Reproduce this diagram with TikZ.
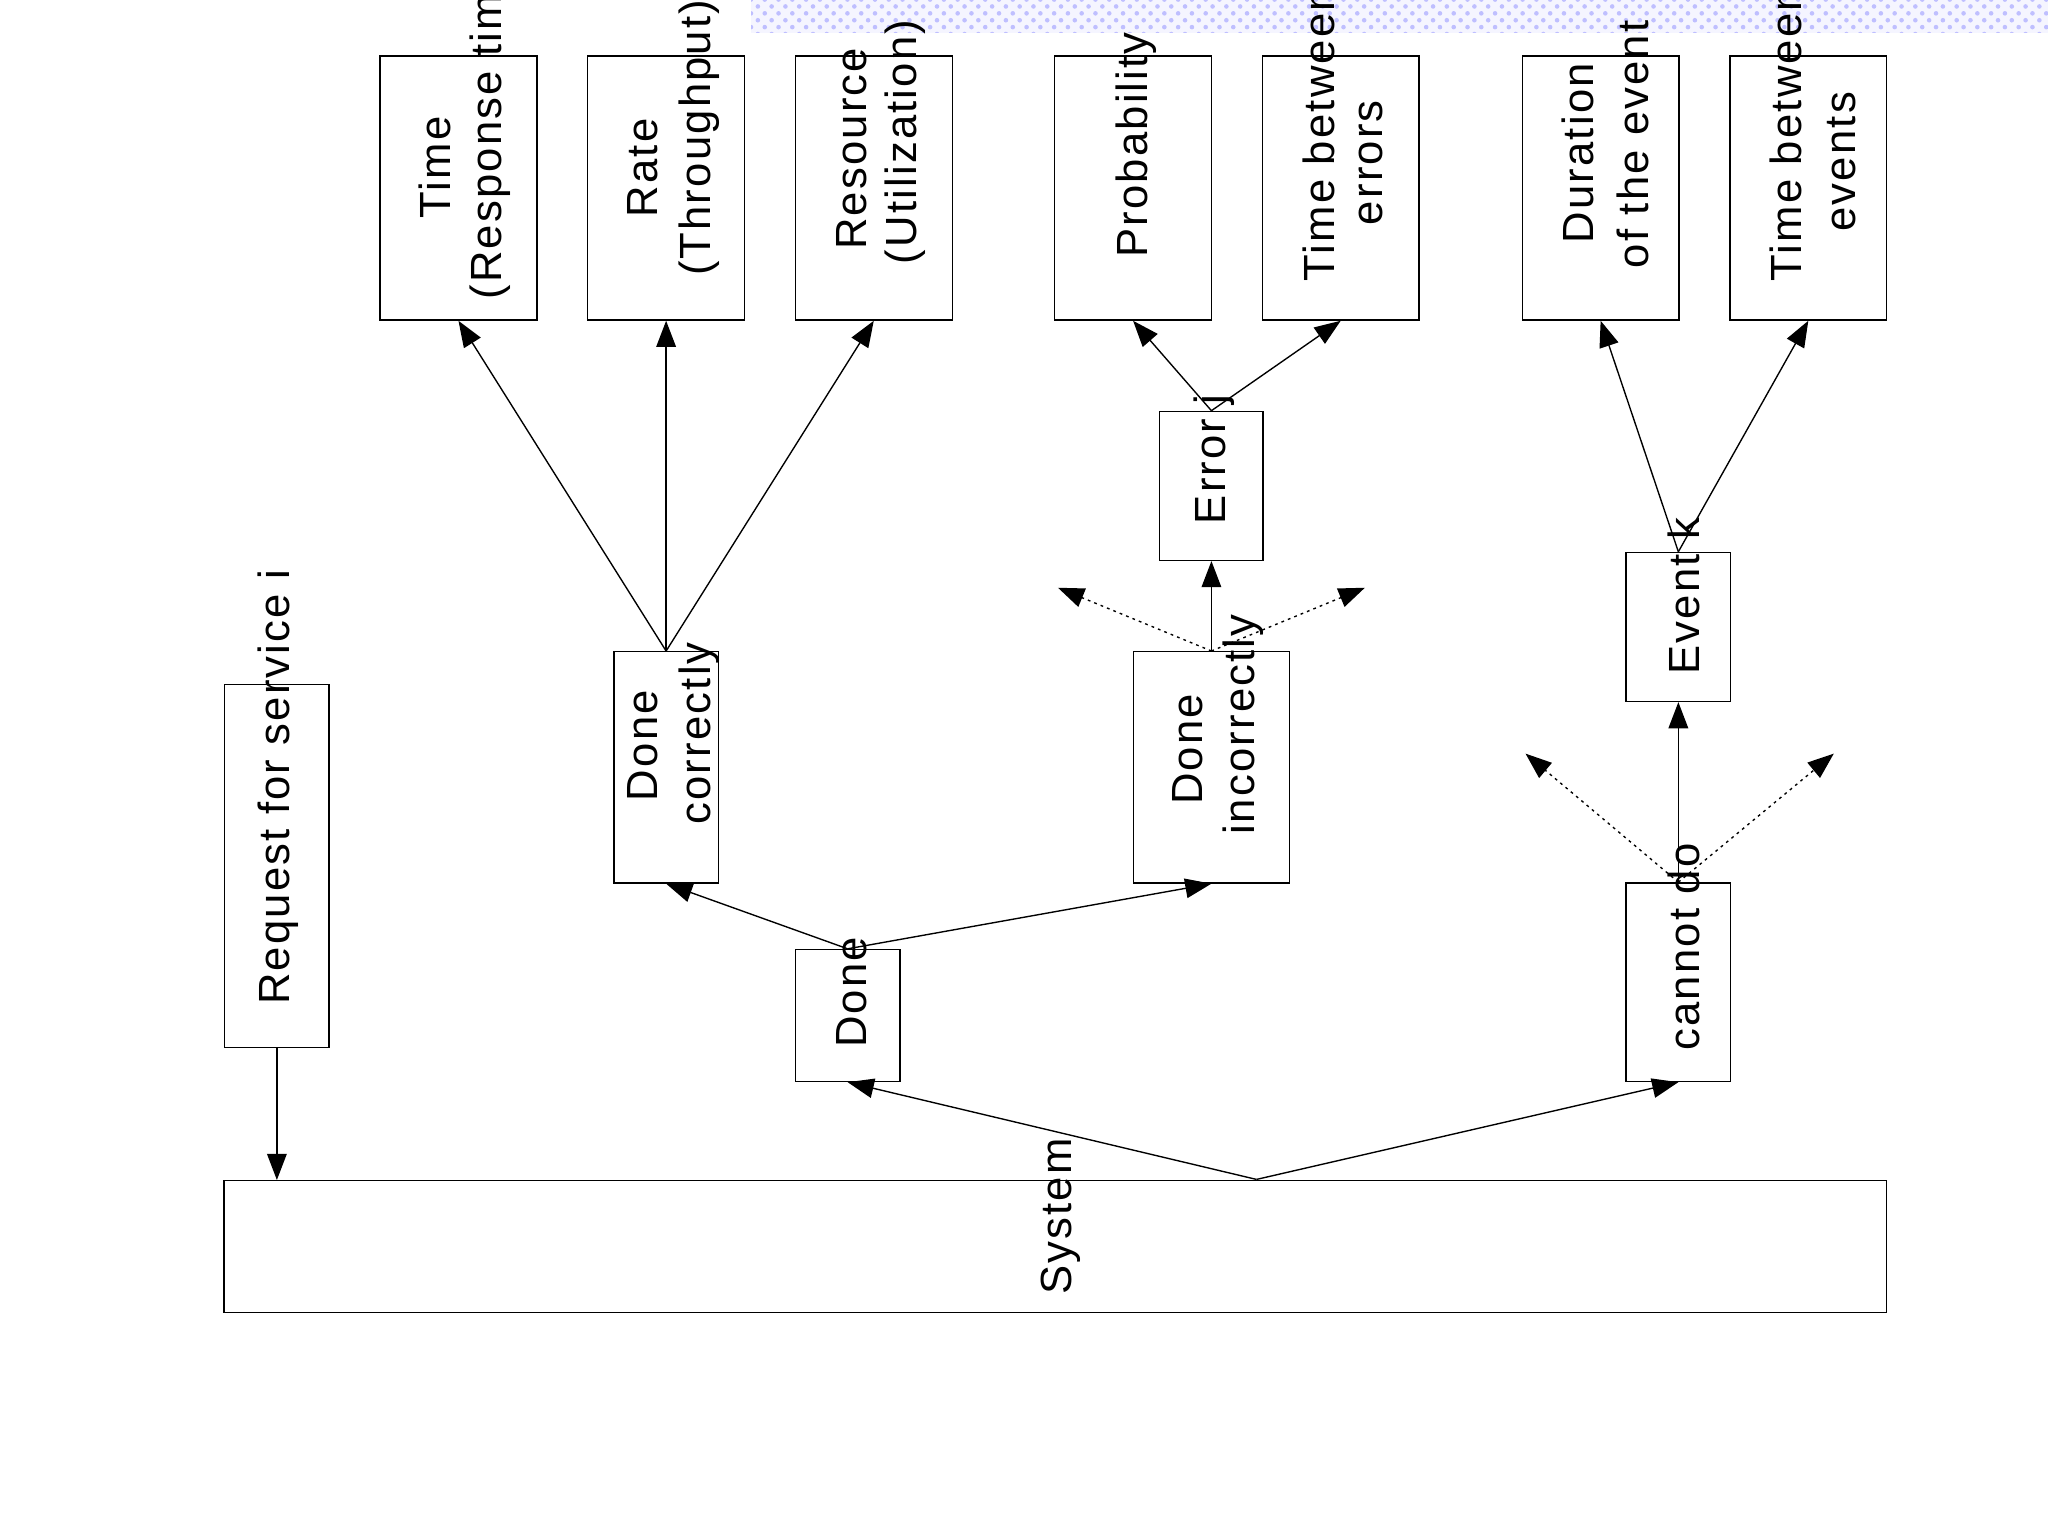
\documentclass[tikz,border=0pt]{standalone}
\usepackage{fontspec}
\setmainfont{Liberation Sans}[LetterSpace=5]
\usetikzlibrary{arrows.meta,patterns}
\begin{document}
\begin{tikzpicture}[x=0.01cm,y=-0.01cm,
  box/.style={draw,line width=0.3pt,inner sep=0,minimum width=#1},
  lbl/.style={rotate=90,anchor=west,inner sep=0,font=\fontsize{9.5}{11}\selectfont},
  arr/.style={line width=0.3pt,-{Triangle[length=0.2cm,width=0.15cm]}},
  dar/.style={arr,dash pattern=on 0.6pt off 0.9pt}]
\useasboundingbox (0,0) rectangle (1568,1176);
\fill[blue!4] (575,0) rectangle (1568,25);
\fill[pattern=crosshatch dots,pattern color=blue!25] (575,0) rectangle (1568,25);
% boxes
\node[box=0.8cm,minimum height=2.78cm] (req) at (212,663) {};
\node[box=12.72cm,minimum height=1.01cm] (sys) at (808,954.5) {};
\node[box=0.8cm,minimum height=1.01cm] (done) at (649,777.5) {};
\node[box=0.8cm,minimum height=1.52cm] (cant) at (1285,752) {};
\node[box=0.8cm,minimum height=1.77cm] (dc) at (510,587.5) {};
\node[box=1.19cm,minimum height=1.77cm] (di) at (927.5,587.5) {};
\node[box=0.79cm,minimum height=1.14cm] (err) at (927.5,372) {};
\node[box=0.8cm,minimum height=1.14cm] (ev) at (1285,480) {};
\foreach \n/\x in {t1/351,t2/510,t3/669,t4/867.5,t5/1026.5,t6/1225.5,t7/1384.5}
  \node[box=1.2cm,minimum height=2.02cm] (\n) at (\x,144) {};
% texts
\node[lbl] (lreq) at (213,770) {Request for service i};
\node[lbl] (lsys) at (812,992) {System};
\node[lbl] (ldone) at (652,803) {Done};
\node[lbl] (lcant) at (1289,805) {cannot do};
\node[lbl] (ldc1) at (492,614) {Done};
\node[lbl] (ldc2) at (535,632) {correctly};
\node[lbl] (ldi1) at (909,617) {Done};
\node[lbl] (ldi2) at (952,640) {incorrectly};
\node[lbl] (lerr) at (930,402) {Error j};
\node[lbl] (lev) at (1289,517) {Event k};
\node[lbl] (la1) at (333,168) {Time};
\node[lbl] (la2) at (375,230) {(Response time)};
\node[lbl] (lb1) at (492,167) {Rate};
\node[lbl] (lb2) at (535,212) {(Throughput)};
\node[lbl] (lc1) at (652,192) {Resource};
\node[lbl] (lc2) at (693,203) {(Utilization)};
\node[lbl] (ld1) at (870,198) {Probability};
\node[lbl] (le1) at (1010,216) {Time between};
\node[lbl] (le2) at (1050,173) {errors};
\node[lbl] (lf1) at (1208,187) {Duration};
\node[lbl] (lf2) at (1250,206) {of the event};
\node[lbl] (lg1) at (1367,216) {Time between};
\node[lbl] (lg2) at (1410,178) {events};
% connectors
\coordinate (sysP) at (962,903);
\coordinate (d1) at (810,450);
\coordinate (d2) at (1045,450);
\coordinate (d3) at (1168,577);
\coordinate (d4) at (1404,577);
\draw[arr] (req.south) -- (sys.north -| req.south);
\draw[arr] (sysP) -- (done.south);
\draw[arr] (sysP) -- (cant.south);
\draw[arr] (done.north) -- (dc.south);
\draw[arr] (done.north) -- (di.south);
\draw[arr] (dc.north) -- (t1.south);
\draw[arr] (dc.north) -- (t2.south);
\draw[arr] (dc.north) -- (t3.south);
\draw[arr] (di.north) -- (err.south);
\draw[dar] (di.north) -- (d1);
\draw[dar] (di.north) -- (d2);
\draw[arr] (err.north) -- (t4.south);
\draw[arr] (err.north) -- (t5.south);
\draw[arr] (cant.north) -- (ev.south);
\draw[dar] (cant.north) -- (d3);
\draw[dar] (cant.north) -- (d4);
\draw[arr] (ev.north) -- (t6.south);
\draw[arr] (ev.north) -- (t7.south);
\end{tikzpicture}
\end{document}
